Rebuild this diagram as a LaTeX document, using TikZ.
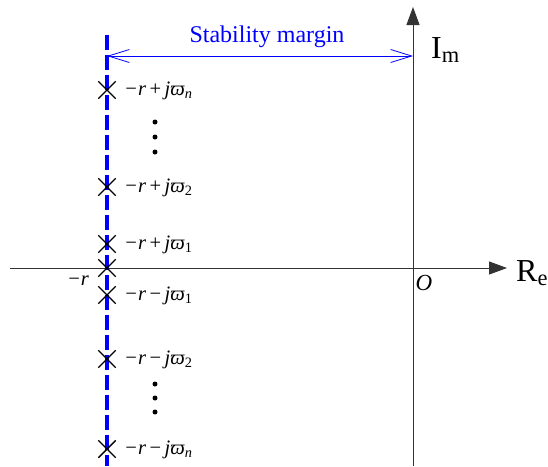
\documentclass[tikz,border=0pt]{standalone}
\usepackage{fontspec}
\setmainfont{Liberation Serif}
\usetikzlibrary{arrows.meta,shapes.misc}
\tikzset{
  pole/.style={cross out,draw=black,line width=1.4pt,minimum size=16pt,inner sep=0pt},
  plab/.style={anchor=west,inner sep=0pt,font=\fontsize{20.5}{24}\selectfont},
  axis/.style={draw=black!80,line width=1pt,-{Triangle[length=18pt,width=13pt]}},
  vdot/.style={circle,fill=black,inner sep=0pt,minimum size=5pt},
  bigl/.style={inner sep=0pt,font=\fontsize{32}{36}\selectfont}
}
\newcommand{\myspc}{\hspace{3.5pt}}
\begin{document}
\begin{tikzpicture}[x=1pt,y=-1pt]
\useasboundingbox (0,0) rectangle (548,466);
% axes
\coordinate (xs) at (10,268);
\coordinate (xe) at (507,268);
\coordinate (ys) at (413,466);
\coordinate (ye) at (413,7);
\draw[axis] (xs) -- (xe);
\draw[axis] (ys) -- (ye);
% dashed boundary
\coordinate (dt) at (107,35);
\coordinate (db) at (107,466);
\draw[blue,line width=3.6pt,dash pattern=on 15pt off 5pt] (dt) -- (db);
% poles
\node[pole] (pn) at (107,90) {};
\node[pole] (p2) at (107,187) {};
\node[pole] (p1) at (107,244) {};
\node[pole] (p0) at (107,268) {};
\node[pole] (m1) at (107,295) {};
\node[pole] (m2) at (107,359) {};
\node[pole] (mn) at (107,449) {};
% labels
\node[plab] (lpn) at (124,91) {\textit{−r}\myspc+\myspc\textit{jϖ}\textsubscript{\textit{n}}};
\node[plab] (lp2) at (124,188) {\textit{−r}\myspc+\myspc\textit{jϖ}\textsubscript{2}};
\node[plab] (lp1) at (124,245) {\textit{−r}\myspc+\myspc\textit{jϖ}\textsubscript{1}};
\node[plab] (lm1) at (124,296) {\textit{−r}\myspc−\myspc\textit{jϖ}\textsubscript{1}};
\node[plab] (lm2) at (124,360) {\textit{−r}\myspc−\myspc\textit{jϖ}\textsubscript{2}};
\node[plab] (lmn) at (124,450) {\textit{−r}\myspc−\myspc\textit{jϖ}\textsubscript{\textit{n}}};
\node[plab,anchor=center] (lr) at (78,281) {\textit{−r}};
\node[plab,anchor=center,font=\fontsize{23}{26}\selectfont] (lo) at (424,283) {\textit{O}};
% dots
\node[vdot] (d1) at (155,122) {};
\node[vdot] (d2) at (155,137) {};
\node[vdot] (d3) at (155,152) {};
\node[vdot] (d4) at (155,384) {};
\node[vdot] (d5) at (155,398) {};
\node[vdot] (d6) at (155,412) {};
% stability margin
\coordinate (sl) at (107,56);
\coordinate (sr) at (413,56);
\draw[blue,line width=0.8pt,{Straight Barb[length=21pt,width=13pt]}-{Straight Barb[length=21pt,width=13pt]}] (sl) -- (sr);
\node[blue,inner sep=0pt,font=\fontsize{24}{28}\selectfont] (sm) at (267,37) {Stability margin};
% axis labels
\node[bigl,anchor=west] (im) at (431,50) {I\textsubscript{m}};
\node[bigl,anchor=west] (re) at (516,273) {R\textsubscript{e}};
\end{tikzpicture}
\end{document}
